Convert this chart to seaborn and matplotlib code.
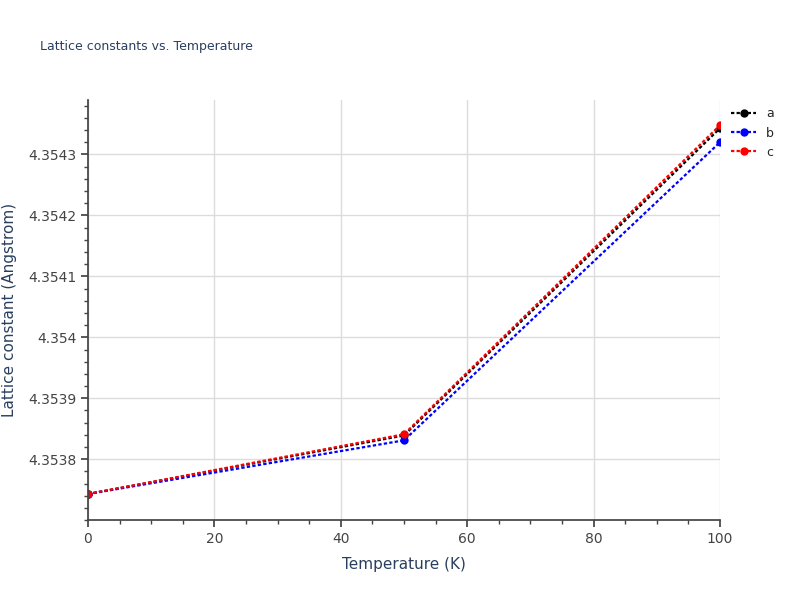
import matplotlib
matplotlib.use("Agg")
import matplotlib.pyplot as plt
import pandas as pd
import seaborn as sns
from matplotlib.ticker import AutoMinorLocator

temperature = [0, 50, 100]
lat_a = [4.353743, 4.353839, 4.354343]
lat_b = [4.353743, 4.353831, 4.354320]
lat_c = [4.353743, 4.353841, 4.354348]

df = pd.DataFrame({"T": temperature * 3,
                   "val": lat_a + lat_b + lat_c,
                   "axis": ["a"] * 3 + ["b"] * 3 + ["c"] * 3})

sns.set_theme(style="whitegrid")
plt.rcParams["font.family"] = ["DejaVu Sans"]

fig = plt.figure(figsize=(8, 6), dpi=100)
ax = fig.add_axes([0.11, 0.133, 0.79, 0.70])
sns.lineplot(data=df, x="T", y="val", hue="axis", marker="o", markersize=6,
             markeredgewidth=0, palette={"a": "black", "b": "blue", "c": "red"},
             linewidth=1.6, ax=ax)
for ln in ax.get_lines():
    ln.set_linestyle((0, (1.5, 1)))

ax.set_xlim(0, 100)
ax.set_ylim(4.35370, 4.354389)
ax.set_yticks([4.3538, 4.3539, 4.354, 4.3541, 4.3542, 4.3543])
ax.set_yticklabels(["4.3538", "4.3539", "4.354", "4.3541", "4.3542", "4.3543"])
ax.xaxis.set_minor_locator(AutoMinorLocator(4))
ax.yaxis.set_minor_locator(AutoMinorLocator(5))
ax.tick_params(which="both", color="#444", left=True, bottom=True, colors="#444")
ax.tick_params(which="major", length=5, labelsize=10)
ax.tick_params(which="minor", length=3)
ax.grid(True, which="major", color="#dcdcdc")
ax.set_facecolor("white")
for s in ["top", "right"]:
    ax.spines[s].set_visible(False)
for s in ["left", "bottom"]:
    ax.spines[s].set_color("#444")
ax.set_xlabel("Temperature (K)", fontsize=11, color="#2a3f5f", labelpad=8)
ax.set_ylabel("Lattice constant (Angstrom)", fontsize=11, color="#2a3f5f", labelpad=8)
fig.text(0.05, 0.917, "Lattice constants vs. Temperature", fontsize=9, color="#2a3f5f")
ax.legend(loc="upper left", bbox_to_anchor=(1.0, 1.01), frameon=False, title=None,
          fontsize=9, handlelength=2)

fig.savefig("out.png")
